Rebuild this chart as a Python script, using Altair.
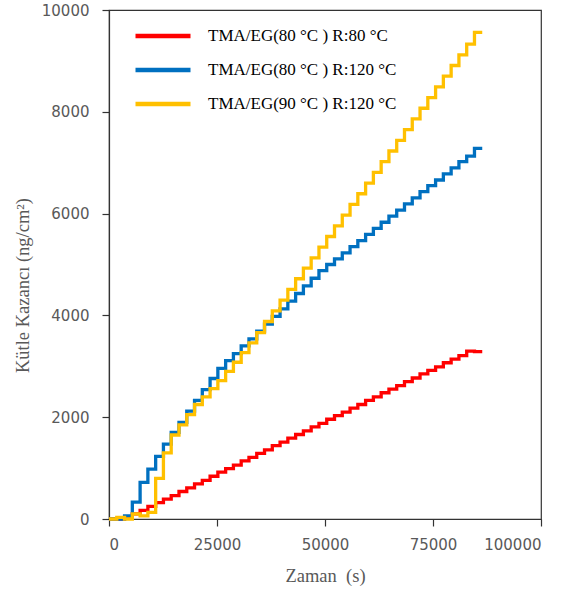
import altair as alt
import pandas as pd

time_s = [0, 1800, 3600, 5400, 7200, 9000, 10800, 12600, 14400, 16200, 18000, 19800,
          21600, 23400, 25200, 27000, 28800, 30600, 32400, 34200, 36000, 37800, 39600,
          41400, 43200, 45000, 46800, 48600, 50400, 52200, 54000, 55800, 57600, 59400,
          61200, 63000, 64800, 66600, 68400, 70200, 72000, 73800, 75600, 77400, 79200,
          81000, 82800, 84600, 86400]

red = [0, 0, 30, 100, 170, 250, 320, 390, 460, 540, 610, 690, 760, 840, 920, 990, 1060,
       1140, 1210, 1290, 1360, 1440, 1510, 1590, 1660, 1730, 1810, 1880, 1960, 2030, 2100,
       2180, 2250, 2330, 2400, 2480, 2550, 2620, 2700, 2770, 2850, 2920, 2990, 3070, 3140,
       3210, 3300, 3290, 3290]

blue = [0, 0, 60, 330, 720, 980, 1230, 1470, 1700, 1900, 2120, 2330, 2540, 2760, 2960,
        3110, 3250, 3400, 3540, 3690, 3830, 3980, 4130, 4280, 4430, 4580, 4730, 4880, 5000,
        5110, 5230, 5350, 5470, 5590, 5710, 5830, 5950, 6070, 6190, 6310, 6430, 6550, 6660,
        6780, 6900, 7020, 7130, 7280, 7280]

yellow = [0, 30, 0, 100, 60, 130, 800, 1300, 1650, 1850, 2050, 2250, 2400, 2560, 2720,
          2900, 3080, 3270, 3460, 3660, 3880, 4090, 4300, 4510, 4720, 4930, 5130, 5340,
          5550, 5760, 5970, 6180, 6390, 6600, 6810, 7020, 7230, 7440, 7650, 7860, 8070,
          8280, 8490, 8700, 8910, 9120, 9330, 9560, 9560]

names = ["TMA/EG(80 \u00b0C ) R:80 \u00b0C",
         "\u2002TMA/EG(80 \u00b0C ) R:120 \u00b0C",
         "\u2002TMA/EG(90 \u00b0C ) R:120 \u00b0C"]
colors = ["#FF0000", "#0070C0", "#FFC000"]

x_ticks = [0, 25000, 50000, 75000, 100000]
y_ticks = [0, 2000, 4000, 6000, 8000, 10000]

rows = []
for k, (name, vals) in enumerate(zip(names, [red, blue, yellow])):
    for t, v in zip(time_s, vals):
        rows.append({"t": t, "v": v, "s": name, "k": k})
df = pd.DataFrame(rows)

chart = alt.Chart(df).mark_line(interpolate="step-after", strokeWidth=3.3).encode(
    x=alt.X("t:Q", scale=alt.Scale(domain=[0, 100000], nice=False),
            axis=alt.Axis(values=x_ticks, format="d", title="Zaman\u00a0\u00a0(s)",
                          titlePadding=14, labelPadding=11)),
    y=alt.Y("v:Q", scale=alt.Scale(domain=[0, 10000], nice=False),
            axis=alt.Axis(values=y_ticks, format="d", title="K\u00fctle Kazanc\u0131 (ng/cm\u00b2)",
                          titlePadding=9, titleY=275, labelPadding=13)),
    color=alt.Color("s:N", scale=alt.Scale(domain=names, range=colors),
                    legend=alt.Legend(orient="none", legendX=24, legendY=16, title=None,
                                      symbolType="stroke", symbolSize=3025,
                                      symbolStrokeWidth=4.5, clipHeight=20, rowPadding=14,
                                      labelFont="Liberation Serif", labelFontSize=17,
                                      labelColor="#000000", labelOffset=15,
                                      labelLimit=400)),
    order=alt.Order("k:Q"),
).properties(
    width=432, height=509,
    padding={"left": 109, "top": 10, "right": 33, "bottom": 80},
    autosize="none",
    background="white",
).configure_view(
    stroke="#333333", strokeWidth=1.2
).configure_axis(
    grid=False,
    domainColor="#333333", domainWidth=1.2,
    tickColor="#333333", tickSize=7, tickWidth=1.2,
    labelFont="DejaVu Sans", labelFontSize=15, labelColor="#595959",
    titleFont="Liberation Serif", titleFontSize=18.5, titleColor="#595959",
    titleFontWeight="normal",
)

chart.save("out.html", embed_options={"renderer": "svg", "actions": False})
